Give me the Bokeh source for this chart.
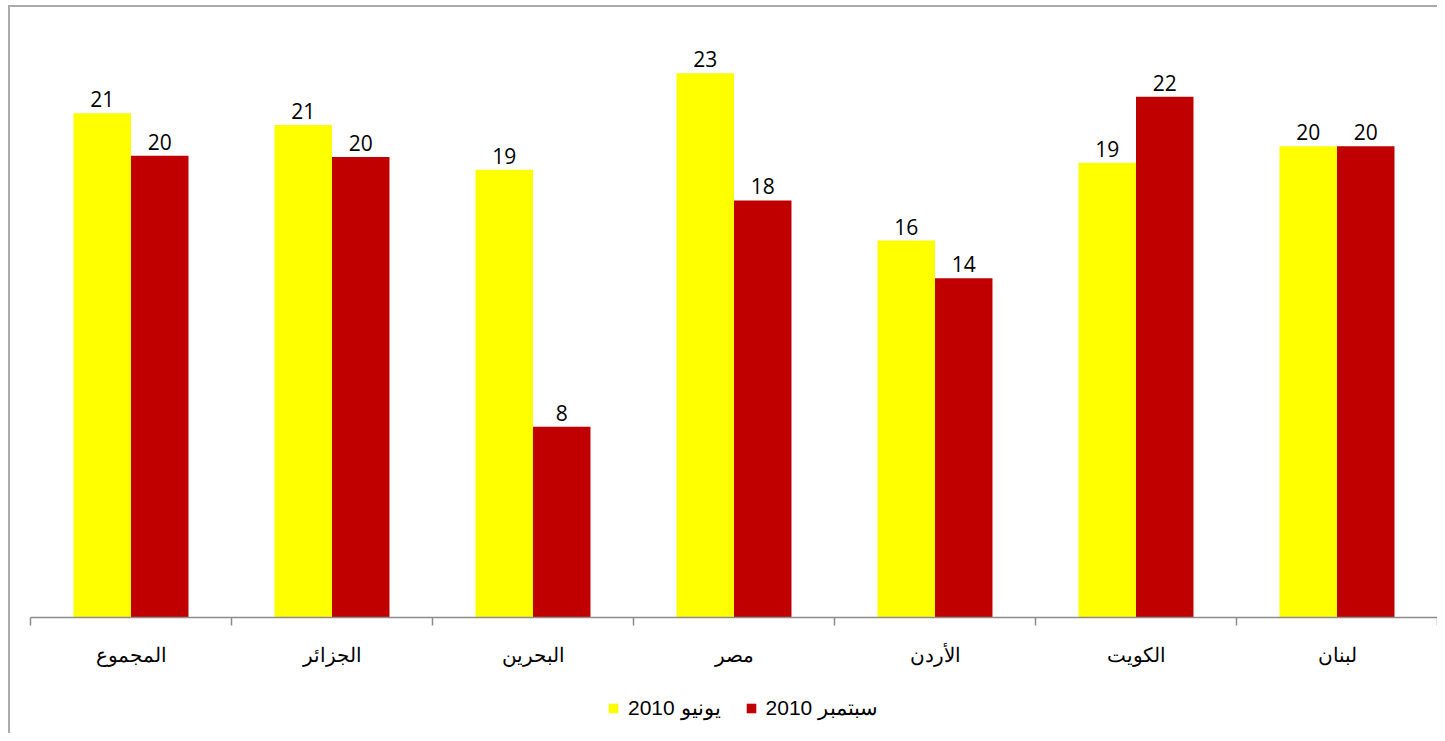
import numpy as np
from bokeh.plotting import figure
from bokeh.layouts import column
from bokeh.models import Range1d, FixedTicker, ColumnDataSource, Legend, LegendItem
from bokeh.core.properties import value
from bokeh.embed import file_html
from bokeh.resources import INLINE

categories = ["المجموع", "الجزائر", "البحرين", "مصر", "الأردن", "الكويت", "لبنان"]
june_2010 = [21.4, 20.9, 19.0, 23.1, 16.0, 19.3, 20.0]
sept_2010 = [19.6, 19.55, 8.1, 17.7, 14.4, 22.1, 20.0]
series_names = ["يونيو 2010", "سبتمبر 2010"]
colors = ["#FFFF00", "#C00000"]

n = len(categories)
centers = np.arange(n) + 0.5
bounds = list(np.arange(n + 1).astype(float))
offset = 0.143
bar_w = 0.286

p = figure(width=1437, height=680, output_backend="svg", toolbar_location=None,
           x_range=Range1d(0, n), y_range=Range1d(0, 25),
           y_axis_location=None, min_border_left=30, min_border_right=0,
           min_border_top=28, min_border_bottom=63)
p.outline_line_color = None
p.xgrid.visible = False
p.ygrid.visible = False
p.background_fill_color = None
p.border_fill_color = None

src1 = ColumnDataSource(dict(x=centers - offset, top=june_2010,
                             lab=["%.0f" % v for v in june_2010]))
src2 = ColumnDataSource(dict(x=centers + offset, top=sept_2010,
                             lab=["%.0f" % v for v in sept_2010]))

for s, c in ((src1, colors[0]), (src2, colors[1])):
    p.vbar(x="x", top="top", bottom=0, width=bar_w, source=s,
           fill_color=c, line_color=None)
    p.text(x="x", y="top", text="lab", source=s, text_align="center",
           text_baseline="alphabetic", y_offset=-14,
           text_font=value("Open Sans"), text_font_size="21px",
           text_color="black")

ax = p.xaxis[0]
ax.ticker = FixedTicker(ticks=list(centers), minor_ticks=bounds)
ax.major_label_overrides = {float(c): lab for c, lab in zip(centers, categories)}
ax.major_tick_out = 0
ax.major_tick_in = 0
ax.minor_tick_out = 8
ax.minor_tick_in = 0
ax.minor_tick_line_color = "#8c8c8c"
ax.minor_tick_line_width = 1.5
ax.axis_line_color = "#8c8c8c"
ax.axis_line_width = 1.5
ax.major_label_standoff = 18
ax.major_label_text_font = "Liberation Sans"
ax.major_label_text_font_size = "20px"
ax.major_label_text_color = "black"

# legend strip below the chart: zero-height renderers only supply the legend swatches
lg = figure(width=1437, height=53, output_backend="svg", toolbar_location=None,
            x_range=Range1d(0, n), y_range=Range1d(0, 1),
            x_axis_location=None, y_axis_location=None,
            min_border_left=0, min_border_right=0, min_border_top=0, min_border_bottom=0)
lg.outline_line_color = None
lg.xgrid.visible = False
lg.ygrid.visible = False
lg.background_fill_color = None
lg.border_fill_color = None
swatch = ColumnDataSource(dict(x=[0.5], top=[0.0]))
lr1 = lg.vbar(x="x", top="top", bottom=0, width=bar_w, source=swatch,
              fill_color=colors[0], line_color=None)
lr2 = lg.vbar(x="x", top="top", bottom=0, width=bar_w, source=swatch,
              fill_color=colors[1], line_color=None)

legend = Legend(items=[LegendItem(label=series_names[0], renderers=[lr1]),
                       LegendItem(label=series_names[1], renderers=[lr2])],
                orientation="horizontal", location=(577, 13),
                glyph_width=12, glyph_height=12, label_standoff=9, spacing=24,
                padding=0, margin=0, border_line_color=None,
                background_fill_alpha=0,
                label_text_font="Liberation Sans", label_text_font_size="21px",
                label_text_color="black")
lg.add_layout(legend, "center")

layout = column(p, lg, spacing=0)
layout.styles = {"background": "linear-gradient(#ababab,#ababab) 8px 5px / 2px 100% no-repeat, "
                               "linear-gradient(#ababab,#ababab) 8px 5px / 100% 2px no-repeat, white"}

open("out.html", "w").write(file_html(layout, INLINE))
